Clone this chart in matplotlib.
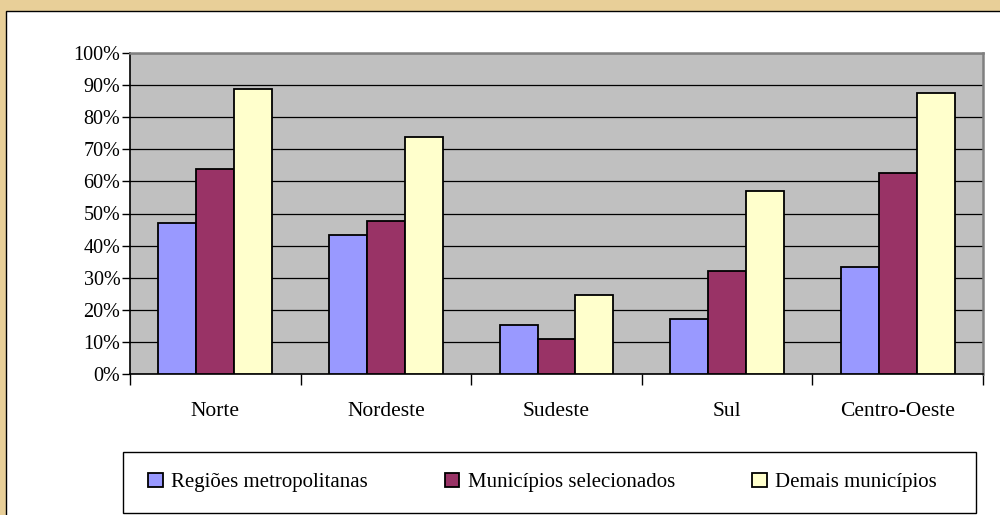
import numpy as np
import matplotlib
matplotlib.use("Agg")
import matplotlib.pyplot as plt
from matplotlib.patches import Rectangle


# regions on the x axis and the three series (share of total, %)
regions = ["Norte", "Nordeste", "Sudeste", "Sul", "Centro-Oeste"]
metropolitanas = [46.9, 43.2, 15.4, 17.2, 33.2]
selecionados = [64.0, 47.8, 10.8, 32.1, 62.7]
demais = [88.7, 73.8, 24.7, 57.0, 87.5]
series_names = ["Regiões metropolitanas", "Municípios selecionados", "Demais municípios"]
yticks = [0, 10, 20, 30, 40, 50, 60, 70, 80, 90, 100]

colors = ["#9999FF", "#993366", "#FFFFCC"]

plt.rcParams["font.family"] = ["Liberation Serif", "DejaVu Serif"]

W, H = 1000, 515
fig = plt.figure(figsize=(10, 5.15), dpi=100)
fig.patch.set_facecolor("#E8CF98")
# white chart panel sitting on the parchment background
panel = Rectangle((6 / W, -0.01), 1.0, (H - 11) / H + 0.01,
                  transform=fig.transFigure, facecolor="white",
                  edgecolor="black", linewidth=1.0, zorder=-5)
fig.add_artist(panel)

ax = fig.add_axes([130 / W, 141 / H, 853 / W, 321 / H])
ax.set_zorder(2)
ax.set_facecolor("#C0C0C0")

x = np.arange(len(regions))
w = 1 / 4.5
for i, (vals, name) in enumerate(zip([metropolitanas, selecionados, demais], series_names)):
    ax.bar(x + (i - 1) * w, vals, width=w, color=colors[i], edgecolor="black",
           linewidth=1.3, label=name, zorder=3)

ax.set_xlim(-0.5, len(regions) - 0.5)
ax.set_ylim(0, 100)
ax.set_yticks(yticks)
ax.set_yticklabels([f"{v}%" for v in yticks])
ax.yaxis.grid(True, color="black", linewidth=0.9, zorder=1)
ax.set_axisbelow(True)

ax.set_xticks(x)
ax.set_xticklabels(regions)
ax.set_xticks(np.arange(-0.5, len(regions)), minor=True)
ax.tick_params(axis="x", which="major", length=0, pad=20.5, labelsize=15.5)
ax.tick_params(axis="x", which="minor", length=8, width=1.0, direction="out", color="black")
ax.tick_params(axis="y", length=6, width=1.0, direction="out", pad=1, labelsize=14.5)

for side in ["top", "right"]:
    ax.spines[side].set_color("#808080")
    ax.spines[side].set_linewidth(1.8)
for side in ["left", "bottom"]:
    ax.spines[side].set_color("black")
    ax.spines[side].set_linewidth(1.2)

# legend box drawn separately so its size matches the original
fig.add_artist(Rectangle((123 / W, 2 / H), 853 / W, 61 / H, transform=fig.transFigure,
                         facecolor="white", edgecolor="black", linewidth=1.0, zorder=3))
handles, labels = ax.get_legend_handles_labels()
leg = fig.legend(handles, labels, loc="center left", ncol=3,
                 bbox_to_anchor=(148 / W, 32.5 / H), fontsize=15, frameon=False,
                 borderpad=0, borderaxespad=0, handlelength=0.7, handleheight=0.7,
                 handletextpad=0.4, columnspacing=3.7)
leg.set_zorder(4)

fig.savefig("out.png", dpi=100, facecolor=fig.get_facecolor())
